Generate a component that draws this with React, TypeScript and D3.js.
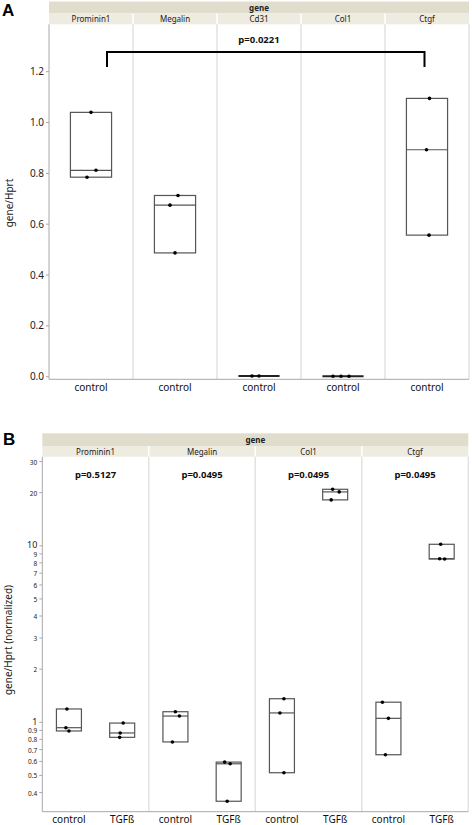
import React from "react";
import * as d3 from "d3";

// ---------- Data ----------
const genesA = ["Prominin1", "Megalin", "Cd31", "Col1", "Ctgf"];
const valuesA: number[][] = [
  [1.04, 0.812, 0.785],
  [0.713, 0.675, 0.487],
  [0.003, 0.003],
  [0.002, 0.002, 0.002],
  [1.095, 0.893, 0.557],
];
const groupA = "control";
const pA = "p=0.0221";
const ticksA = [0, 0.2, 0.4, 0.6, 0.8, 1.0, 1.2];

const genesB = ["Prominin1", "Megalin", "Col1", "Ctgf"];
const groupsB = ["control", "TGFß"];
const controlB: number[][] = [
  [1.19, 0.932, 0.893],
  [1.148, 1.085, 0.774],
  [1.36, 1.13, 0.518],
  [1.3, 1.053, 0.655],
];
const tgfB: number[][] = [
  [0.99, 0.87, 0.822],
  [0.595, 0.582, 0.357],
  [20.9, 20.2, 18.2],
  [10.2, 8.45, 8.42],
];
const pB = ["p=0.5127", "p=0.0495", "p=0.0495", "p=0.0495"];
const ticksB = [30, 20, 10, 9, 8, 7, 6, 5, 4, 3, 2, 1, 0.9, 0.8, 0.7, 0.6, 0.5, 0.4];

// presentational jitter (px) of points
const jitterA = [[0, 5, -4], [3, -5, 0], [-7, 0], [-10, -2, 6], [2.5, -0.5, 2]];
const jitterB = [
  [[-2, -3, 0], [1, -2, -2.5]],
  [[0, 4, -3], [-4, 1.5, -1.5]],
  [[2, -2, 2], [-2.5, 4, -4]],
  [[-6, 0, -3], [-1, -2, 3]],
];

const FONT = "'Noto Sans', 'DejaVu Sans', sans-serif";
const HDR1 = "#e1ddcd";
const HDR2 = "#eeebe1";
const GRID = "#e2e2e2";
const AXIS = "#a8a8a8";
const BOX = "#555";

function boxStats(v: number[]) {
  const s = [...v].sort(d3.ascending);
  return { lo: s[0], med: d3.median(s) as number, hi: s[s.length - 1] };
}

function PanelA() {
  const left = 49, right = 469, top = 24.3, bottom = 379.3;
  const hTop = 1.5, hMid = 13.5;
  const x = d3.scaleBand<string>().domain(genesA).range([left, right]);
  const y = d3.scaleLinear().domain([0, 1.2]).range([376.7, 71.7]);
  const bw = x.bandwidth() * 0.49;
  const cx = (g: string) => (x(g) as number) + x.bandwidth() / 2;
  const c0 = cx(genesA[0]);
  const c4 = cx(genesA[4]);
  const yBr = 52;
  return (
    <g>
      <text x={2} y={16} fontFamily="Arial, 'Liberation Sans', sans-serif" fontWeight="bold" fontSize={17}>A</text>
      {/* header */}
      <rect x={left} y={hTop} width={right - left} height={hMid - hTop} fill={HDR1} />
      <rect x={left} y={hMid} width={right - left} height={top - hMid} fill={HDR2} />
      <text x={(left + right) / 2} y={10.5} textAnchor="middle" fontFamily={FONT} fontWeight="bold" fontSize={8} fill="#222">gene</text>
      {genesA.map((g, i) => (
        <g key={g}>
          <text x={cx(g)} y={22} textAnchor="middle" fontFamily={FONT} fontSize={8} fill="#222">{g}</text>
          {i > 0 && <line x1={x(g)} x2={x(g)} y1={hMid} y2={top} stroke="#fff" strokeWidth={1.5} />}
          {i > 0 && <line x1={x(g)} x2={x(g)} y1={top} y2={bottom} stroke={GRID} strokeWidth={1.5} />}
        </g>
      ))}
      <line x1={right} x2={right} y1={top} y2={bottom} stroke={GRID} strokeWidth={1.5} />
      {/* axes */}
      <line x1={left} x2={left} y1={top} y2={bottom} stroke={AXIS} strokeWidth={1} />
      <line x1={left} x2={right} y1={bottom} y2={bottom} stroke={AXIS} strokeWidth={1} />
      {ticksA.map((t) => (
        <g key={t}>
          <line x1={left - 3} x2={left} y1={y(t)} y2={y(t)} stroke={AXIS} />
          <text x={left - 5} y={y(t) + 3.5} textAnchor="end" fontFamily={FONT} fontSize={10} fill="#222">{d3.format(".1f")(t)}</text>
        </g>
      ))}
      <text transform={`translate(13,203) rotate(-90)`} textAnchor="middle" fontFamily={FONT} fontSize={10} fill="#222">gene/Hprt</text>
      {genesA.map((g) => (
        <text key={g} x={cx(g)} y={391} textAnchor="middle" fontFamily={FONT} fontSize={10} fill="#111">{groupA}</text>
      ))}
      {/* boxes */}
      {genesA.map((g, i) => {
        const st = boxStats(valuesA[i]);
        const c = cx(g);
        const hgt = Math.max(y(st.lo) - y(st.hi), 0);
        return (
          <g key={g}>
            {hgt > 1.5 ? (
              <>
                <rect x={c - bw / 2} y={y(st.hi)} width={bw} height={hgt} fill="none" stroke={BOX} strokeWidth={1.2} />
                <line x1={c - bw / 2} x2={c + bw / 2} y1={y(st.med)} y2={y(st.med)} stroke={BOX} strokeWidth={1.2} />
              </>
            ) : (
              <line x1={c - bw / 2} x2={c + bw / 2} y1={y(st.med)} y2={y(st.med)} stroke="#222" strokeWidth={2} />
            )}
            {valuesA[i].map((v, j) => (
              <circle key={j} cx={c + jitterA[i][j]} cy={y(v)} r={1.8} fill="#000" />
            ))}
          </g>
        );
      })}
      {/* bracket */}
      <path d={`M${c0 + 16},67 V${yBr} H${c4 - 2.5} V67`} fill="none" stroke="#000" strokeWidth={2} />
      <text x={(left + right) / 2} y={43} textAnchor="middle" fontFamily={FONT} fontWeight="bold" fontSize={9.5} fill="#111">{pA}</text>
    </g>
  );
}

function PanelB() {
  const left = 42.3, right = 468.3, top = 456.7, bottom = 811.7;
  const hTop = 433.3, hMid = 446;
  const x = d3.scaleBand<string>().domain(genesB).range([left, right]);
  const xi = d3.scaleBand<string>().domain(groupsB).range([0, x.bandwidth()]);
  const y = d3.scaleLog().domain([1, 10]).range([722.3, 545.8]);
  const bw = 25;
  const cx = (g: string, k: string) => (x(g) as number) + (xi(k) as number) + xi.bandwidth() / 2;
  const big = new Set([10, 1]);
  return (
    <g>
      <text x={3} y={445} fontFamily="Arial, 'Liberation Sans', sans-serif" fontWeight="bold" fontSize={17}>B</text>
      <rect x={left} y={hTop} width={right - left} height={hMid - hTop} fill={HDR1} />
      <rect x={left} y={hMid} width={right - left} height={top - hMid} fill={HDR2} />
      <text x={(left + right) / 2} y={443} textAnchor="middle" fontFamily={FONT} fontWeight="bold" fontSize={8} fill="#222">gene</text>
      {genesB.map((g, i) => {
        const gx = x(g) as number;
        const gc = gx + x.bandwidth() / 2;
        return (
          <g key={g}>
            <text x={gc} y={454.5} textAnchor="middle" fontFamily={FONT} fontSize={8} fill="#222">{g}</text>
            {i > 0 && <line x1={gx} x2={gx} y1={hMid} y2={top} stroke="#fff" strokeWidth={1.5} />}
            {i > 0 && <line x1={gx} x2={gx} y1={top} y2={bottom} stroke={GRID} strokeWidth={1.5} />}
            <text x={gc} y={477.5} textAnchor="middle" fontFamily={FONT} fontWeight="bold" fontSize={9.5} fill="#111">{pB[i]}</text>
          </g>
        );
      })}
      <line x1={right} x2={right} y1={top} y2={bottom} stroke={GRID} strokeWidth={1.5} />
      <line x1={left} x2={left} y1={top} y2={bottom} stroke={AXIS} strokeWidth={1} />
      <line x1={left} x2={right} y1={bottom} y2={bottom} stroke={AXIS} strokeWidth={1} />
      {ticksB.map((t) => (
        <g key={t}>
          <line x1={left - 3} x2={left} y1={y(t)} y2={y(t)} stroke={AXIS} />
          <text x={left - 5} y={y(t) + (big.has(t) ? 2.5 : 3)} textAnchor="end" fontFamily={FONT} fontSize={big.has(t) ? 9 : 6.5} fill="#222">{String(t)}</text>
        </g>
      ))}
      <text transform={`translate(12,640) rotate(-90)`} textAnchor="middle" fontFamily={FONT} fontSize={10} fill="#222">gene/Hprt (normalized)</text>
      {genesB.map((g, i) =>
        groupsB.map((k, gi) => {
          const vals = gi === 0 ? controlB[i] : tgfB[i];
          const st = boxStats(vals);
          const c = cx(g, k);
          return (
            <g key={g + k}>
              <text x={c} y={823} textAnchor="middle" fontFamily={FONT} fontSize={10} fill="#111">{k}</text>
              <rect x={c - bw / 2} y={y(st.hi)} width={bw} height={y(st.lo) - y(st.hi)} fill="none" stroke={BOX} strokeWidth={1.2} />
              <line x1={c - bw / 2} x2={c + bw / 2} y1={y(st.med)} y2={y(st.med)} stroke={BOX} strokeWidth={1.2} />
              {vals.map((v, j) => (
                <circle key={j} cx={c + jitterB[i][gi][j]} cy={y(v)} r={1.8} fill="#000" />
              ))}
            </g>
          );
        })
      )}
    </g>
  );
}

export default function App() {
  return (
    <svg width={472} height={825} style={{ position: "absolute", left: 0, top: 0, background: "#fff" }}>
      <rect width={472} height={825} fill="#fff" />
      <PanelA />
      <PanelB />
    </svg>
  );
}
